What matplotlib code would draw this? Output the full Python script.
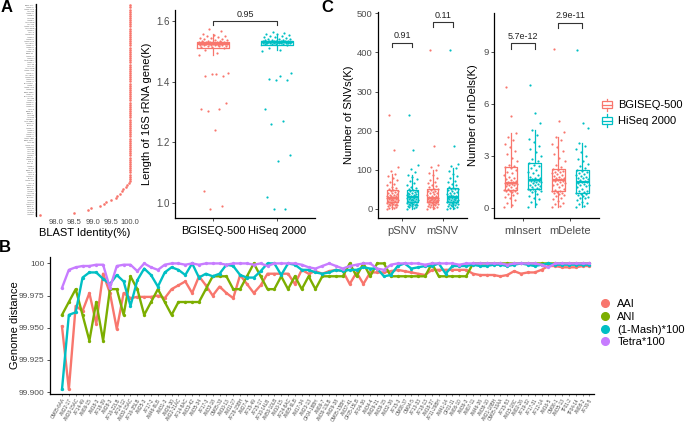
import numpy as np
import matplotlib.pyplot as plt
from matplotlib.legend_handler import HandlerBase
from matplotlib.lines import Line2D
from matplotlib.patches import Rectangle

plt.rcParams['font.family'] = ['Liberation Sans', 'DejaVu Sans']

# ---------------- data ----------------
strain_ids = [
    "OM05-6AA", "AM22-17", "AM20-15AC", "AF14-49", "AM09-15", "AM18-3", "AF18-39", "AM28-3", "AF16-22LB", "AF24-12",
    "AM30-15AC", "AF16-35LB", "AM25-3", "AF17-2", "AM46-8LB", "AM31-3", "AM26-30", "AM22-21AC", "AF14-8AC", "AM33-42",
    "AM35-34", "AF17-3", "AM33-18", "OM05-33", "AM10-13", "AM11-27", "AF28-15BH", "AM27-4", "AF15-49", "AF25-17",
    "AF10-14LB", "AM50-10LB", "AM10-15", "AF24-8AC", "AM05-6LB", "AM17-34", "AM23-13", "OF04-18BH", "AM09-7", "AM36-13LB",
    "AM29-38", "OM05-15BH", "AM37-41", "OF05-15LB", "AF04-36", "AM34-4", "AM29-21", "AM39-15", "AM32-36", "AF15-3",
    "OM08-37", "OM04-5", "AF13-33", "AF18-13", "AM18-37", "AF11-29BH", "AM41-14", "OF01-11", "AM06-10", "AM36-3",
    "AM07-11", "AM46-36", "AM38-10", "AM21-18BH", "OM05-10AA", "AF15-53", "AM15-18C", "AM02-26", "AF19-32", "AF17-31",
    "AF12-14", "AM16-5", "OM06-1", "AM35-13", "TF01-2", "TF04-14", "AM08-2", "AF30-5", "OM02-12", "AM44-11",
    "AF21-9", "AM13-21", "OF03-7", "AM19-4LB", "AF27-3", "AM42-16", "OM07-3", "AF09-17", "AM48-2", "AF22-40",
    "AM03-22", "OF02-15", "AM14-9", "AF26-11", "AM12-30", "OM01-8", "AF05-21", "AM45-7", "AF08-33", "AM40-5",
]

# A: 16S BLAST identity (%) per isolate
blast_identity = [100.0] * 84 + [
    99.98, 99.94, 99.89, 99.82, 99.80, 99.73, 99.67, 99.63,
    99.50, 99.35, 99.31, 99.19, 98.96, 98.87, 98.49, 97.58,
]

# A: 16S rRNA gene length (K)
len_bgi = [
    1.487, 1.495, 1.505, 1.511, 1.513, 1.515, 1.516, 1.518, 1.519, 1.520, 1.520, 1.521, 1.521, 1.522,
    1.522, 1.523, 1.523, 1.523, 1.524, 1.524, 1.524, 1.525, 1.525, 1.525, 1.526, 1.526, 1.527, 1.527,
    1.527, 1.528, 1.528, 1.529, 1.529, 1.530, 1.530, 1.530, 1.531, 1.531, 1.532, 1.533, 1.534, 1.535,
    1.536, 1.538, 1.540, 1.542, 1.543, 1.545, 1.547, 1.549, 1.551, 1.553, 1.556, 1.566, 1.572,
    1.43, 1.425, 1.42, 1.42, 1.425, 1.31, 1.31, 1.305, 1.33, 1.24, 1.04, 0.99, 0.98,
]
len_hiseq = [
    1.500, 1.505, 1.512, 1.520, 1.523, 1.524, 1.525, 1.525, 1.526, 1.526, 1.526, 1.527, 1.527, 1.527,
    1.527, 1.528, 1.528, 1.528, 1.528, 1.529, 1.529, 1.529, 1.530, 1.530, 1.530, 1.530, 1.531, 1.531,
    1.531, 1.532, 1.532, 1.532, 1.533, 1.533, 1.533, 1.534, 1.534, 1.535, 1.535, 1.536, 1.537, 1.538,
    1.539, 1.540, 1.542, 1.544, 1.546, 1.548, 1.550, 1.552, 1.554, 1.556, 1.558, 1.561, 1.565,
    1.43, 1.42, 1.41, 1.405, 1.405, 1.31, 1.27, 1.26, 1.16, 1.14, 1.02, 0.98, 0.98,
]

# C: SNVs (K)
snv_groups = ["pSNV", "mSNV"]
psnv_bgi = [0.5, 2, 3, 5, 6, 8, 9, 10, 11, 12, 13, 14, 15, 16, 17, 18, 18, 19, 20, 21,
            22, 23, 24, 25, 25, 26, 27, 28, 28, 29, 30, 31, 32, 33, 34, 35, 37, 38, 40, 42,
            43, 45, 47, 48, 50, 53, 56, 60, 65, 70, 75, 80, 85, 90, 98, 108, 150, 240]
psnv_hiseq = [1, 2, 4, 5, 7, 8, 9, 10, 11, 12, 13, 14, 15, 16, 17, 18, 19, 19, 20, 21,
              22, 23, 24, 25, 26, 26, 27, 28, 29, 30, 31, 32, 33, 34, 35, 36, 38, 39, 41, 42,
              44, 45, 47, 48, 51, 54, 57, 61, 66, 71, 76, 82, 88, 95, 102, 112, 150, 240]
msnv_bgi = [0.5, 2, 4, 5, 6, 8, 9, 11, 12, 13, 14, 15, 16, 17, 18, 19, 20, 20, 21, 21,
            22, 22, 23, 24, 24, 25, 25, 26, 27, 28, 29, 30, 32, 34, 36, 38, 40, 42, 44, 46,
            47, 49, 50, 52, 55, 58, 62, 66, 70, 75, 80, 86, 92, 100, 106, 112, 160, 405]
msnv_hiseq = [1, 2, 3, 5, 7, 8, 10, 11, 12, 13, 14, 15, 16, 17, 18, 19, 20, 21, 21, 22,
              23, 24, 25, 26, 27, 28, 28, 29, 30, 31, 32, 33, 34, 36, 38, 40, 42, 44, 46, 48,
              50, 51, 52, 54, 57, 60, 64, 68, 72, 78, 84, 90, 96, 104, 110, 115, 160, 405]
snv_pvals = ["0.91", "0.11"]

# C: InDels (K)
indel_groups = ["mInsert", "mDelete"]
mins_bgi = [0.05, 0.15, 0.3, 0.45, 0.55, 0.65, 0.75, 0.8, 0.85, 0.9, 0.95, 0.98, 1.0, 1.02, 1.05,
            1.1, 1.15, 1.2, 1.25, 1.3, 1.33, 1.36, 1.38, 1.4, 1.42, 1.43, 1.45, 1.47, 1.5, 1.55,
            1.6, 1.65, 1.7, 1.8, 1.9, 2.0, 2.1, 2.2, 2.3, 2.35, 2.4, 2.5, 2.7, 2.9, 3.1, 3.3,
            3.5, 3.7, 3.9, 4.1, 4.3, 5.3, 7.0]
mins_hiseq = [0.05, 0.2, 0.35, 0.5, 0.6, 0.7, 0.8, 0.9, 0.95, 1.0, 1.05, 1.08, 1.1, 1.12, 1.15,
              1.2, 1.25, 1.3, 1.35, 1.4, 1.45, 1.5, 1.52, 1.55, 1.57, 1.58, 1.6, 1.62, 1.65, 1.7,
              1.75, 1.8, 1.9, 2.0, 2.1, 2.2, 2.3, 2.4, 2.5, 2.6, 2.7, 2.85, 3.0, 3.2, 3.4, 3.6,
              3.8, 4.0, 4.2, 4.5, 4.9, 5.5, 7.1]
mdel_bgi = [0.05, 0.1, 0.2, 0.3, 0.4, 0.5, 0.6, 0.7, 0.75, 0.8, 0.85, 0.88, 0.9, 0.95, 1.0,
            1.05, 1.1, 1.2, 1.3, 1.35, 1.4, 1.45, 1.5, 1.55, 1.58, 1.6, 1.62, 1.65, 1.7, 1.75,
            1.8, 1.85, 1.9, 1.95, 2.0, 2.05, 2.1, 2.15, 2.2, 2.25, 2.35, 2.5, 2.7, 2.9, 3.1,
            3.3, 3.5, 3.7, 3.9, 4.1, 4.4, 5.0, 9.2]
mdel_hiseq = [0.05, 0.1, 0.2, 0.3, 0.35, 0.45, 0.55, 0.6, 0.65, 0.7, 0.75, 0.8, 0.83, 0.85, 0.9,
              0.95, 1.0, 1.1, 1.2, 1.25, 1.3, 1.35, 1.4, 1.45, 1.48, 1.5, 1.52, 1.55, 1.6, 1.65,
              1.7, 1.75, 1.8, 1.85, 1.9, 1.95, 2.0, 2.1, 2.15, 2.2, 2.3, 2.4, 2.55, 2.7, 2.85,
              3.0, 3.2, 3.4, 3.6, 3.75, 4.6, 4.9, 9.1]
indel_pvals = ["5.7e-12", "2.9e-11"]

platforms = ["BGISEQ-500", "HiSeq 2000"]

# B: genome distance per isolate
aai = [99.951, 99.902, 99.967, 99.963, 99.977, 99.953, 99.992, 99.977, 99.949, 99.977,
       99.973, 99.974, 99.974, 99.974, 99.975, 99.973, 99.980, 99.983, 99.986, 99.977,
       99.990, 99.983, 99.975, 99.982, 99.977, 99.973, 99.991, 99.984, 99.977, 99.983,
       99.992, 99.992, 99.992, 99.992, 99.984, 99.995, 99.992, 99.994, 99.992, 99.994,
       99.995, 99.994, 99.984, 99.993, 99.984, 99.993, 99.993, 99.993, 99.994, 99.995,
       99.994, 99.993, 99.992, 99.991, 99.995, 99.995, 99.995, 99.995, 99.995, 99.995,
       99.992, 99.991, 99.991, 99.991, 99.990, 99.991, 99.994, 99.992, 99.993, 99.993,
       99.995, 99.998, 99.998, 99.997, 99.997, 99.997, 99.998, 99.998]
ani = [99.96, 99.97, 99.98, 99.96, 99.94, 99.97, 99.94, 99.98, 99.98, 99.96,
       99.99, 99.98, 99.96, 99.97, 99.98, 99.97, 99.96, 99.97, 99.97, 99.97,
       99.97, 99.98, 99.99, 99.99, 99.99, 99.98, 99.98, 99.99, 100.0, 99.99,
       99.98, 99.98, 99.99, 99.98, 99.99, 99.98, 99.99, 99.98, 99.99, 99.99,
       99.99, 99.99, 100.0, 99.99, 100.0, 99.99, 100.0, 100.0, 99.99, 99.99,
       99.99, 99.99, 99.99, 99.99, 100.0, 99.99, 99.99, 99.99, 99.99, 99.99,
       100.0, 100.0, 100.0, 100.0, 100.0, 100.0, 100.0, 100.0, 100.0, 100.0,
       100.0, 100.0, 100.0, 100.0, 100.0, 100.0, 100.0, 100.0]
mash = [99.902, 99.960, 99.962, 99.989, 99.993, 99.993, 99.988, 99.984, 99.991, 99.986,
        99.967, 99.987, 99.996, 99.991, 99.982, 99.993, 99.997, 99.995, 99.991, 100.0,
        99.989, 99.992, 99.990, 99.992, 99.999, 99.998, 99.991, 99.989, 99.989, 99.994,
        100.0, 100.0, 99.991, 100.0, 99.999, 99.995, 99.995, 99.993, 99.992, 99.993,
        99.995, 99.994, 99.995, 99.995, 99.997, 99.996, 99.996, 99.990, 99.991, 99.998,
        100.0, 99.996, 99.997, 99.998, 99.998, 100.0, 99.992, 99.998, 99.998, 99.998,
        99.999, 99.998, 99.998, 99.999, 99.999, 99.998, 99.999, 100.0, 99.999, 99.998,
        99.999, 100.0, 99.999, 99.999, 99.999, 99.999, 99.999, 99.999]
tetra = [99.981, 99.995, 99.997, 99.998, 99.998, 99.999, 99.999, 99.981, 99.998, 99.999,
         99.999, 99.994, 100.0, 99.997, 99.995, 99.999, 100.0, 100.0, 99.999, 100.0,
         99.999, 100.0, 100.0, 100.0, 99.999, 100.0, 100.0, 100.0, 99.999, 100.0,
         99.998, 100.0, 100.0, 100.0, 100.0, 99.999, 99.997, 99.996, 99.998, 100.0,
         99.998, 99.996, 99.998, 99.999, 100.0, 100.0, 99.996, 99.995, 99.999, 100.0,
         100.0, 100.0, 100.0, 99.999, 100.0, 100.0, 100.0, 100.0, 99.999, 100.0,
         100.0, 100.0, 100.0, 100.0, 100.0, 99.999, 100.0, 100.0, 100.0, 100.0,
         99.999, 99.997, 100.0, 100.0, 100.0, 100.0, 100.0, 100.0]
dist_labels = ["AAI", "ANI", "(1-Mash)*100", "Tetra*100"]

# ---------------- style ----------------
RED, TEAL, GREEN, PURPLE = '#F8766D', '#00BFC4', '#7CAE00', '#C77CFF'
GREY = '#4D4D4D'
W, H = 685, 423

fig = plt.figure(figsize=(W / 100, H / 100), dpi=100)


def px_axes(l, t, r, b):
    return fig.add_axes([l / W, 1 - b / H, (r - l) / W, (b - t) / H])


def classic(ax, fs):
    ax.spines['top'].set_visible(False)
    ax.spines['right'].set_visible(False)
    ax.spines['left'].set_linewidth(0.9)
    ax.spines['bottom'].set_linewidth(0.9)
    ax.tick_params(color='#333333', labelcolor=GREY, labelsize=fs, length=2.5, width=0.6, pad=1.5)


def jitter(n, w):
    return ((np.arange(n) * 0.618034) % 1 - 0.5) * 2 * w


def box_with_points(ax, vals, pos, width, jw, color, ms):
    ax.boxplot(vals, positions=[pos], widths=width, showfliers=False, manage_ticks=False,
               boxprops=dict(color=color, lw=0.9), whiskerprops=dict(color=color, lw=0.9),
               capprops=dict(visible=False), medianprops=dict(color=color, lw=1.6))
    ax.scatter(pos + jitter(len(vals), jw), vals, s=ms, color=color, lw=0, zorder=3)


def bracket(ax, x1, x2, y, tip, text, fs):
    ax.plot([x1, x1, x2, x2], [y - tip, y, y, y - tip], color='#333333', lw=0.8)
    ax.text((x1 + x2) / 2, y + tip * 0.5, text, ha='center', va='bottom', fontsize=fs, color='#222222')


# ---------------- A left: BLAST identity ----------------
ax = px_axes(36, 4, 134, 216)
classic(ax, 5.5)
ax.spines['bottom'].set_visible(False)
n = len(blast_identity)
ypos = np.arange(n)[::-1]
ax.scatter(blast_identity, ypos, s=3.5, color=RED, lw=0, zorder=3)
ax.set_yticks(ypos)
ax.set_yticklabels(strain_ids[:n], fontsize=1.4)
ax.tick_params(axis='y', length=1, width=0.3, pad=0.5)
ax.tick_params(axis='x', length=0, pad=2)
ax.set_ylim(-0.6, n - 0.4)
ax.set_xlim(97.46, 100.12)
ax.set_xticks([98.0, 98.5, 99.0, 99.5, 100.0])
ax.set_xticklabels(['98.0', '98.5', '99.0', '99.5', '100.0'])
ax.set_xlabel('BLAST Identity(%)', fontsize=8, labelpad=1.5)

# ---------------- A right: 16S length ----------------
ax = px_axes(175, 10, 315, 218)
classic(ax, 7)
box_with_points(ax, len_bgi, 0, 0.5, 0.23, RED, 2.5)
box_with_points(ax, len_hiseq, 1, 0.5, 0.23, TEAL, 2.5)
bracket(ax, 0, 1, 1.60, 0.013, '0.95', 6.5)
ax.set_xlim(-0.6, 1.6)
ax.set_ylim(0.951, 1.636)
ax.set_yticks([1.0, 1.2, 1.4, 1.6])
ax.set_xticks([0, 1])
ax.set_xticklabels(platforms, fontsize=8, color='black')
ax.tick_params(axis='x', labelcolor='black', pad=3)
ax.set_ylabel('Length of 16S rRNA gene(K)', fontsize=8)
ax.yaxis.set_label_coords(-0.165, 0.5)

# ---------------- C left: SNVs ----------------
ax = px_axes(378, 12, 467, 218)
classic(ax, 6.8)
snv_sets = [(psnv_bgi, psnv_hiseq), (msnv_bgi, msnv_hiseq)]
for i, (b, h) in enumerate(snv_sets):
    box_with_points(ax, b, i - 0.245, 0.28, 0.14, RED, 2.5)
    box_with_points(ax, h, i + 0.245, 0.28, 0.14, TEAL, 2.5)
bracket(ax, -0.245, 0.245, 425, 12, snv_pvals[0], 6.5)
bracket(ax, 0.755, 1.245, 477, 12, snv_pvals[1], 6.5)
ax.set_xlim(-0.6, 1.6)
ax.set_ylim(-23, 503)
ax.set_yticks([0, 100, 200, 300, 400, 500])
ax.set_xticks([0, 1])
ax.set_xticklabels(snv_groups, fontsize=8)
ax.tick_params(axis='x', pad=3)
ax.set_ylabel('Number of SNVs(K)', fontsize=8, labelpad=2)

# ---------------- C right: InDels ----------------
ax = px_axes(494, 13, 599, 218)
classic(ax, 6.8)
indel_sets = [(mins_bgi, mins_hiseq), (mdel_bgi, mdel_hiseq)]
for i, (b, h) in enumerate(indel_sets):
    box_with_points(ax, b, i - 0.25, 0.26, 0.14, RED, 2.5)
    box_with_points(ax, h, i + 0.25, 0.26, 0.14, TEAL, 2.5)
bracket(ax, -0.25, 0.25, 9.5, 0.3, indel_pvals[0], 6.5)
bracket(ax, 0.75, 1.25, 10.7, 0.3, indel_pvals[1], 6.5)
ax.set_xlim(-0.6, 1.6)
ax.set_ylim(-0.58, 11.25)
ax.set_yticks([0, 3, 6, 9])
ax.set_xticks([0, 1])
ax.set_xticklabels(indel_groups, fontsize=8)
ax.tick_params(axis='x', pad=3)
ax.set_ylabel('Number of InDels(K)', fontsize=8)
ax.yaxis.set_label_coords(-0.15, 0.5)


class BoxKey(HandlerBase):
    def create_artists(self, legend, orig_handle, xd, yd, width, height, fontsize, trans):
        c = orig_handle.get_color()
        x0, x1 = -xd + width * 0.12, -xd + width * 0.88
        y0 = -yd
        box = Rectangle((x0, y0 + height * 0.25), x1 - x0, height * 0.5, fill=False,
                        ec=c, lw=0.9, transform=trans)
        med = Line2D([x0, x1], [y0 + height / 2] * 2, color=c, lw=0.9, transform=trans)
        xm = -xd + width / 2
        wlo = Line2D([xm, xm], [y0 + height * 0.05, y0 + height * 0.25], color=c, lw=0.9, transform=trans)
        whi = Line2D([xm, xm], [y0 + height * 0.75, y0 + height * 0.95], color=c, lw=0.9, transform=trans)
        return [box, med, wlo, whi]


h_c = [Line2D([], [], color=RED), Line2D([], [], color=TEAL)]
fig.legend(h_c, platforms, loc='upper left', bbox_to_anchor=(600 / W, 1 - 98 / H),
           frameon=False, fontsize=8, handler_map={Line2D: BoxKey()}, handlelength=1.2,
           handleheight=1.5, handletextpad=0.4, labelspacing=0.2, borderpad=0, borderaxespad=0)

# ---------------- B: genome distance ----------------
ax = px_axes(50, 257, 594, 394)
classic(ax, 6)
xs = np.arange(len(aai))
for vals, c in zip([aai, ani, mash, tetra], [RED, GREEN, TEAL, PURPLE]):
    ax.plot(xs, vals, color=c, lw=1.7, marker='o', ms=2.4, mew=0)
ax.set_xlim(-1.75, 77.66)
ax.set_ylim(99.8985, 100.005)
ax.set_yticks([99.9, 99.925, 99.95, 99.975, 100.0])
ax.set_yticklabels(['99.900', '99.925', '99.950', '99.975', '100'])
ax.set_xticks(xs)
ax.set_xticklabels(strain_ids[:len(xs)], rotation=60, ha='right', rotation_mode='anchor',
                   fontsize=3.3)
ax.tick_params(axis='x', length=1.5, width=0.4, pad=1)
ax.set_ylabel('Genome distance', fontsize=8)
ax.yaxis.set_label_coords(-0.055, 0.5)

h_b = [Line2D([], [], ls='', marker='o', ms=5.5, color=c) for c in [RED, GREEN, TEAL, PURPLE]]
fig.legend(h_b, dist_labels, loc='upper left', bbox_to_anchor=(599 / W, 1 - 299 / H),
           frameon=False, fontsize=8, handlelength=1.0, handletextpad=0.65,
           labelspacing=0.25, borderpad=0, borderaxespad=0)

# panel letters
for txt, x, y in [('A', 7, 8), ('B', 5, 247), ('C', 327, 8)]:
    fig.text(x / W, 1 - y / H, txt, fontsize=12, fontweight='bold', ha='center', va='center')

fig.savefig('out.png', dpi=100)
